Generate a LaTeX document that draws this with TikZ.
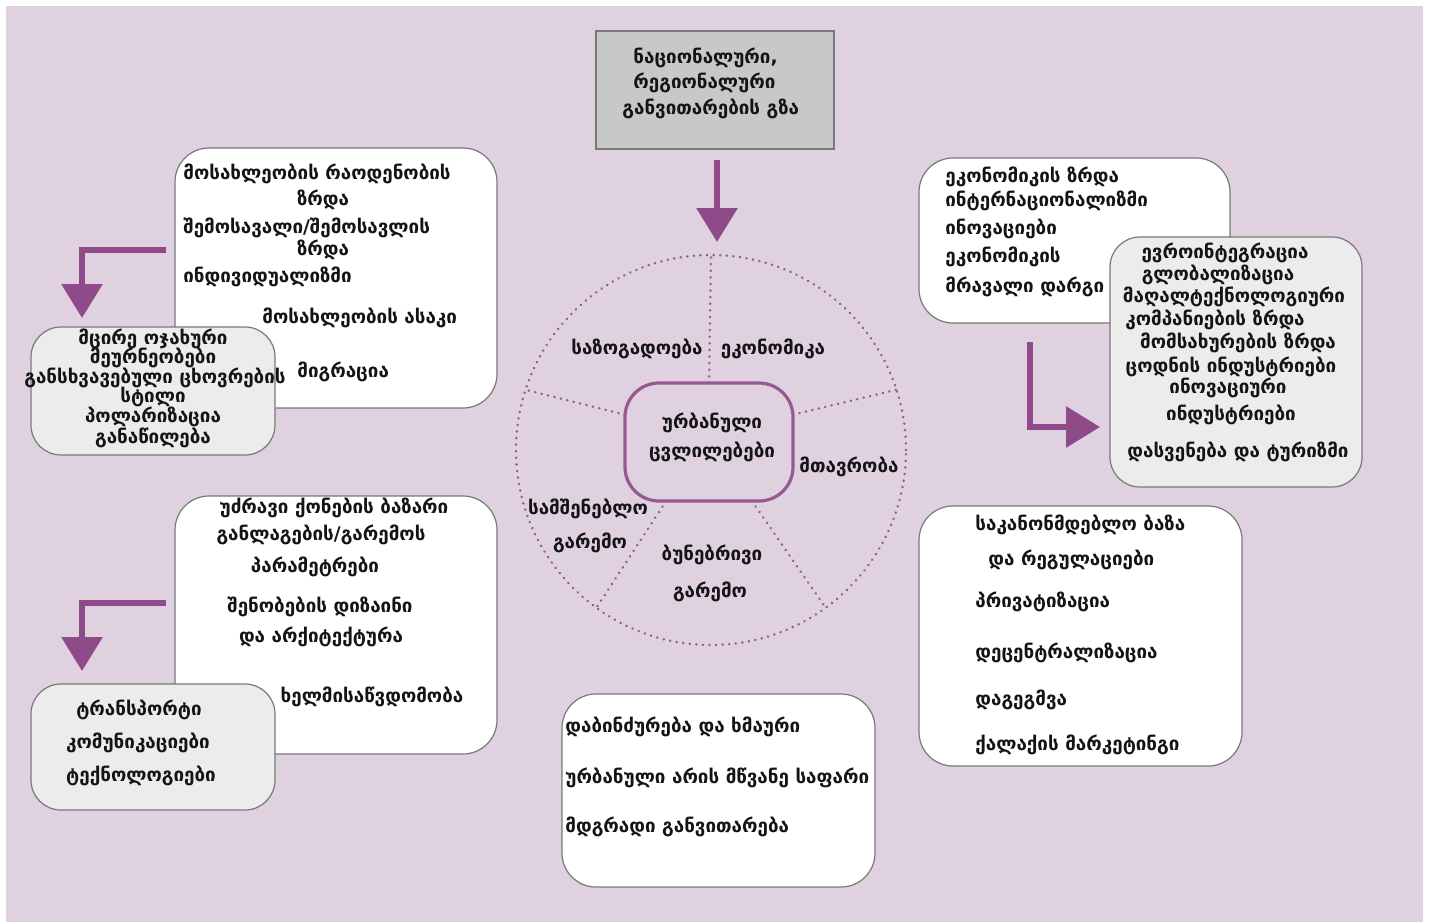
\documentclass[tikz,border=0pt]{standalone}
\usepackage{fontspec}
\setmainfont{DejaVu Sans}
\usetikzlibrary{arrows.meta,calc}
\definecolor{bgc}{RGB}{224,209,224}
\definecolor{purp}{RGB}{143,74,138}
\definecolor{dotc}{RGB}{150,90,145}
\definecolor{greyfill}{RGB}{236,236,236}
\definecolor{topfill}{RGB}{200,200,200}
\definecolor{edge}{RGB}{120,120,120}
\definecolor{ink}{RGB}{20,20,20}
\def\PX{0.5pt}
\tikzset{
  whitebox/.style={draw=edge, line width=0.6pt, fill=white, rounded corners=17pt, inner sep=0pt, outer sep=0pt},
  greybox/.style={draw=edge, line width=0.6pt, fill=greyfill, rounded corners=15pt, inner sep=0pt, outer sep=0pt},
  topbox/.style={draw=edge, line width=0.6pt, fill=topfill, inner sep=0pt, outer sep=0pt},
  centerbox/.style={draw=dotc, line width=1.6pt, rounded corners=17pt, inner sep=0pt, outer sep=0pt},
  txt/.style={font=\fontsize{9.4}{11}\selectfont\bfseries, text=ink, inner sep=0pt},
  dotline/.style={draw=dotc, line width=1.3pt, dash pattern=on 0.1pt off 3.2pt, line cap=round},
  arr/.style={draw=purp, line width=3pt, -{Triangle[width=20pt,length=17pt]}}
}
\begin{document}
\begin{tikzpicture}[x=0.5pt,y=-0.5pt]
\useasboundingbox (0,0) rectangle (1434,922);
\fill[bgc] (6,6) rectangle (1423,922);
% wheel
\coordinate (wc) at (711,450);
\draw[dotline] (wc) circle[radius=97.5pt];
\node[centerbox, minimum width=168*\PX, minimum height=118*\PX] (cbox) at (709,442) {};
\foreach \a in {90,18,-54,-126,162}{
  \draw[dotline] (cbox.\a) -- ($(wc)+(\a:97.5pt)$);
}
% boxes
\node[topbox, minimum width=238*\PX, minimum height=118*\PX] (topb) at (715,90) {};
\node[whitebox, minimum width=322*\PX, minimum height=260*\PX] (ltbox) at (336,278) {};
\node[greybox, minimum width=244*\PX, minimum height=128*\PX] (lgbox) at (153,391) {};
\node[whitebox, minimum width=311*\PX, minimum height=165*\PX] (rtbox) at (1074.5,240.5) {};
\node[greybox, minimum width=252*\PX, minimum height=250*\PX] (rgbox) at (1236,362) {};
\node[whitebox, minimum width=322*\PX, minimum height=258*\PX] (lbbox) at (336,625) {};
\node[greybox, minimum width=244*\PX, minimum height=126*\PX] (lbgbox) at (153,747) {};
\node[whitebox, minimum width=323*\PX, minimum height=260*\PX] (rbbox) at (1080.5,636) {};
\node[whitebox, minimum width=313*\PX, minimum height=193*\PX] (bcbox) at (718.5,790.5) {};
% arrows
\coordinate (a0s) at (717,160);
\coordinate (a0e) at (717,242);
\draw[arr] (a0s) -- (a0e);
\coordinate (a1s) at (166,250);
\coordinate (a1e) at (82,318);
\draw[arr] (a1s) -| (a1e);
\coordinate (a2s) at (166,603);
\coordinate (a2e) at (82,671);
\draw[arr] (a2s) -| (a2e);
\coordinate (a3s) at (1030,342);
\coordinate (a3e) at (1100,427);
\draw[arr] (a3s) |- (a3e);
% top box text
\node[txt, anchor=west] (tb1) at (633,58) {ნაციონალური,};
\node[txt, anchor=west] (tb2) at (633,83) {რეგიონალური};
\node[txt, anchor=west] (tb3) at (622,109) {განვითარების გზა};
% left top
\node[txt, anchor=west] (lt1) at (183,174) {მოსახლეობის რაოდენობის};
\node[txt] (lt2) at (323,200) {ზრდა};
\node[txt, anchor=west] (lt3) at (183,228) {შემოსავალი/შემოსავლის};
\node[txt] (lt4) at (323,250) {ზრდა};
\node[txt, anchor=west] (lt5) at (183,277) {ინდივიდუალიზმი};
\node[txt, anchor=west] (lt6) at (262,318) {მოსახლეობის ასაკი};
\node[txt, anchor=west] (lt7) at (297,372) {მიგრაცია};
% left grey
\node[txt] (lg1) at (153,339) {მცირე ოჯახური};
\node[txt] (lg2) at (153,358) {მეურნეობები};
\node[txt] (lg3) at (155,378) {განსხვავებული ცხოვრების};
\node[txt] (lg4) at (153,397) {სტილი};
\node[txt] (lg5) at (153,417) {პოლარიზაცია};
\node[txt] (lg6) at (153,438) {განაწილება};
% right top
\node[txt, anchor=west] (rt1) at (945,177) {ეკონომიკის ზრდა};
\node[txt, anchor=west] (rt2) at (945,201) {ინტერნაციონალიზმი};
\node[txt, anchor=west] (rt3) at (945,229) {ინოვაციები};
\node[txt, anchor=west] (rt4) at (945,257) {ეკონომიკის};
\node[txt, anchor=west] (rt5) at (945,287) {მრავალი დარგი};
% right grey
\node[txt] (rg1) at (1225,253) {ევროინტეგრაცია};
\node[txt] (rg2) at (1218,275) {გლობალიზაცია};
\node[txt] (rg3) at (1234,297) {მაღალტექნოლოგიური};
\node[txt] (rg4) at (1215,320) {კომპანიების ზრდა};
\node[txt] (rg5) at (1238,343) {მომსახურების ზრდა};
\node[txt] (rg6) at (1231,367) {ცოდნის ინდუსტრიები};
\node[txt] (rg7) at (1228,388) {ინოვაციური};
\node[txt] (rg8) at (1231,415) {ინდუსტრიები};
\node[txt] (rg9) at (1238,452) {დასვენება და ტურიზმი};
% wheel labels
\node[txt] (w1) at (637,349) {საზოგადოება};
\node[txt] (w2) at (773,349) {ეკონომიკა};
\node[txt] (w3) at (849,467) {მთავრობა};
\node[txt] (w4) at (588,509) {სამშენებლო};
\node[txt] (w5) at (590,543) {გარემო};
\node[txt] (w6) at (712,555) {ბუნებრივი};
\node[txt] (w7) at (710,592) {გარემო};
\node[txt] (c1) at (712,423) {ურბანული};
\node[txt] (c2) at (712,452) {ცვლილებები};
% left bottom
\node[txt] (lb1) at (334,508) {უძრავი ქონების ბაზარი};
\node[txt] (lb2) at (321,535) {განლაგების/გარემოს};
\node[txt] (lb3) at (315,567) {პარამეტრები};
\node[txt] (lb4) at (320,607) {შენობების დიზაინი};
\node[txt] (lb5) at (321,637) {და არქიტექტურა};
\node[txt] (lb6) at (372,697) {ხელმისაწვდომობა};
% left bottom grey
\node[txt] (lbg1) at (139,710) {ტრანსპორტი};
\node[txt] (lbg2) at (138,743) {კომუნიკაციები};
\node[txt] (lbg3) at (141,776) {ტექნოლოგიები};
% right bottom
\node[txt, anchor=west] (rb1) at (975,525) {საკანონმდებლო ბაზა};
\node[txt, anchor=west] (rb2) at (988,560) {და რეგულაციები};
\node[txt, anchor=west] (rb3) at (975,602) {პრივატიზაცია};
\node[txt, anchor=west] (rb4) at (975,653) {დეცენტრალიზაცია};
\node[txt, anchor=west] (rb5) at (975,700) {დაგეგმვა};
\node[txt, anchor=west] (rb6) at (975,745) {ქალაქის მარკეტინგი};
% bottom center
\node[txt, anchor=west] (bc1) at (565,727) {დაბინძურება და ხმაური};
\node[txt, anchor=west] (bc2) at (565,778) {ურბანული არის მწვანე საფარი};
\node[txt, anchor=west] (bc3) at (565,827) {მდგრადი განვითარება};
\end{tikzpicture}
\end{document}
